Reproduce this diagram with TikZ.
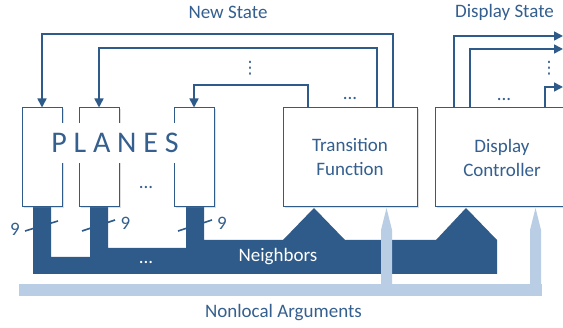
\documentclass[tikz,border=0pt]{standalone}
\usepackage{fontspec}
\setmainfont{Carlito}
\newfontfamily\symfont{DejaVu Sans}
\usetikzlibrary{arrows.meta,shadows}
\definecolor{navy}{HTML}{2E5B8A}
\definecolor{sky}{HTML}{B9CDE5}
\definecolor{ink}{HTML}{345F8E}

\begin{document}
\begin{tikzpicture}[x=1pt,y=-1pt,
  box/.style={draw=navy, line width=1pt, fill=white, inner sep=0pt,
    drop shadow={shadow xshift=1.5pt,shadow yshift=-1.5pt,opacity=0.25}},
  lbl/.style={text=ink, font=\fontsize{19}{24}\selectfont},
  wire/.style={draw=navy, line width=1.6pt, -{Triangle[length=9pt,width=9pt]}},
  tick/.style={draw=navy, line width=1.6pt},
  dots/.style={text=ink, font=\fontsize{19}{24}\selectfont, inner sep=0pt},
  vdots/.style={text=ink, inner sep=0pt, font=\symfont\fontsize{17}{20}\selectfont}]
\useasboundingbox (0,0) rectangle (563,328);
\clip (0,0) rectangle (563,328);

% neighbour bus from the planes to both units
\fill[navy] (33,207) -- (33,274) -- (497,274) -- (497,240) -- (466,208)
  -- (436,240) -- (345,240) -- (314,208) -- (283,240) -- (204,240)
  -- (204,207) -- (186,207) -- (186,248) -- (108,248) -- (108,207)
  -- (90,207) -- (90,257) -- (51,257) -- (51,207) -- cycle;

% nonlocal argument bus
\fill[sky] (19,284) rectangle (542,296);
\fill[sky] (381,296) -- (381,230) -- (386.5,208) -- (392,230) -- (392,296) -- cycle;
\fill[sky] (530,296) -- (530,230) -- (535.5,208) -- (541,230) -- (541,296) -- cycle;

% planes
\node[box, minimum width=40, minimum height=99] (p1) at (42,157.5) {};
\node[box, minimum width=40, minimum height=99] (p2) at (99,157.5) {};
\node[box, minimum width=40, minimum height=99] (p3) at (194,157.5) {};
\node[fill=white, text=ink, font=\fontsize{30}{30}\selectfont,
  minimum height=40, inner xsep=2pt] (planes) at (115,143) {P L A N E S};
\node[dots] (pdots) at (146,188) {...};

% processing units
\node[box, lbl, align=center, minimum width=134, minimum height=99]
  (tf) at (350,157.5) {Transition\\Function};
\node[box, lbl, align=center, minimum width=134, minimum height=99]
  (dc) at (502,157.5) {Display\\Controller};

% bus widths
\draw[tick] (25,231) -- (58,221);
\draw[tick] (82,231) -- (115,220);
\draw[tick] (178,231) -- (212,220);
\node[lbl] (w1) at (15,229) {9};
\node[lbl] (w2) at (125.5,223) {9};
\node[lbl] (w3) at (222,223) {9};

% new state fed back to the planes
\coordinate (n1) at (393,34);
\coordinate (n2) at (377,48);
\coordinate (n3) at (308,85);
\draw[wire] (tf.north -| n1) -- (n1) -| (p1.north);
\draw[wire] (tf.north -| n2) -- (n2) -| (p2.north);
\draw[wire] (tf.north -| n3) -- (n3) -| (p3.north);
\node[vdots] (nv) at (250,68.5) {⋮};
\node[dots] (nd) at (350,99) {...};

% display state outputs
\coordinate (d1) at (454,36);
\coordinate (d2) at (470,49);
\coordinate (d3) at (545,87);
\coordinate (e1) at (563,36);
\coordinate (e2) at (563,49);
\coordinate (e3) at (563,87);
\draw[wire] (dc.north -| d1) -- (d1) -- (e1);
\draw[wire] (dc.north -| d2) -- (d2) -- (e2);
\draw[wire] (dc.north -| d3) -- (d3) -- (e3);
\node[vdots] (dv) at (549,68.5) {⋮};
\node[dots] (dd) at (504,100) {...};

% labels
\node[lbl] (ns) at (228,12) {New State};
\node[lbl] (ds) at (504.5,12.5) {Display State};
\node[lbl] (na) at (283.5,313) {Nonlocal Arguments};
\node[text=white, font=\fontsize{19}{24}\selectfont] (nb) at (278,257) {Neighbors};
\node[text=white, font=\fontsize{19}{24}\selectfont, inner sep=0pt] (bd) at (146,263) {...};
\end{tikzpicture}
\end{document}
